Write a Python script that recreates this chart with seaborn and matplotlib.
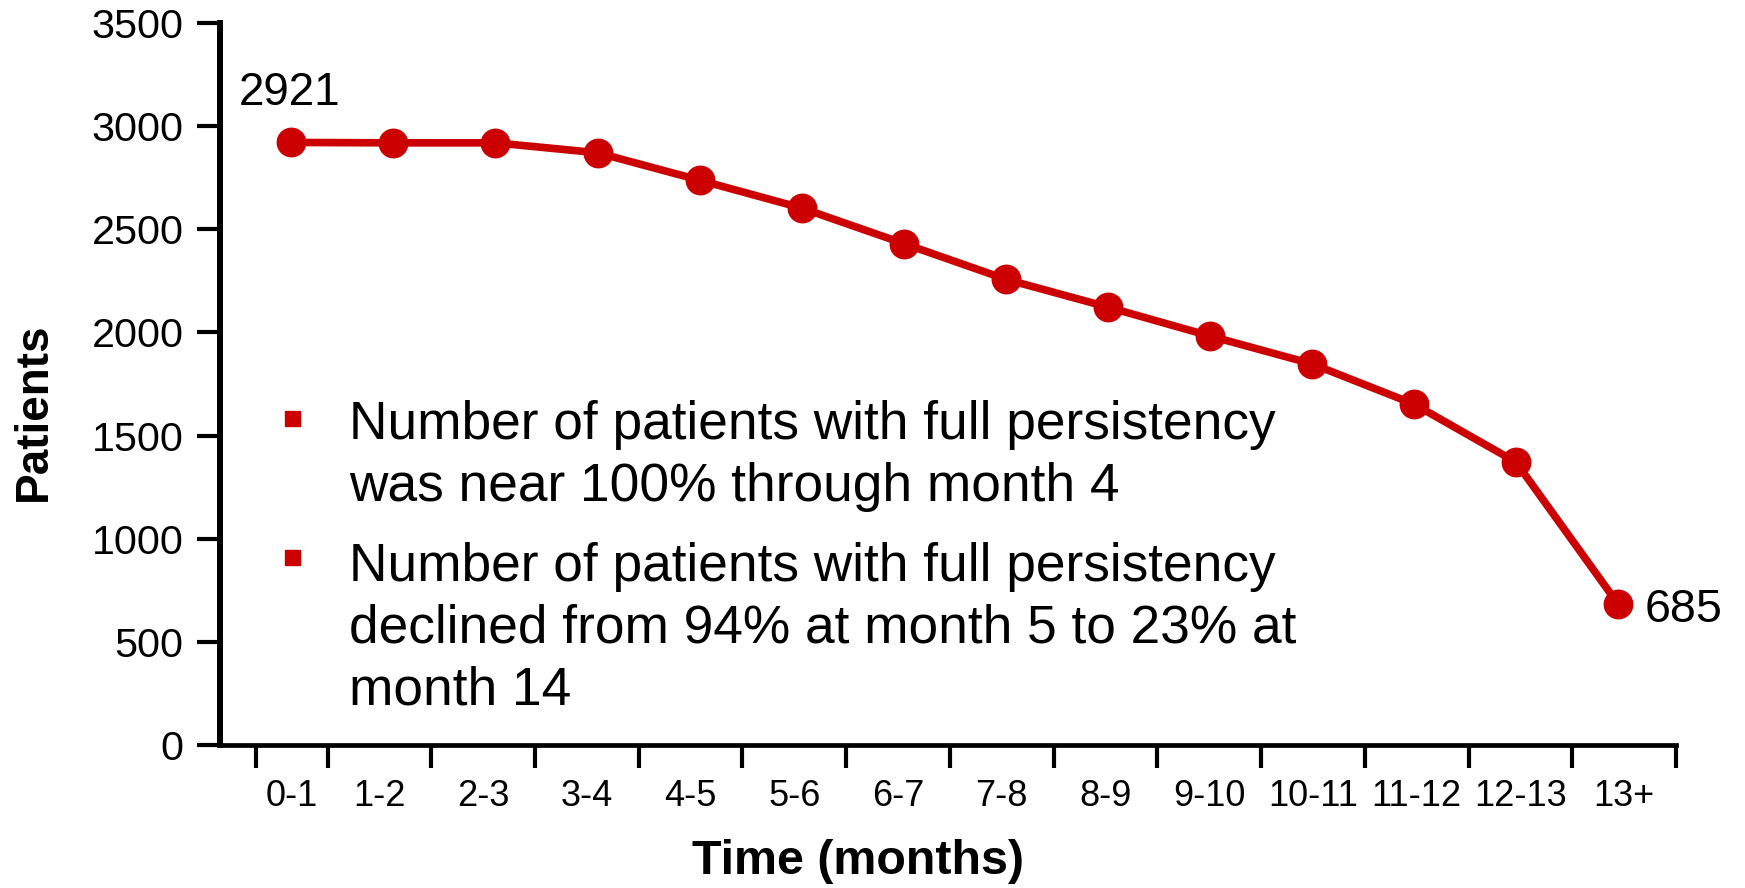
import numpy as np
import pandas as pd
import matplotlib
matplotlib.use("Agg")
import matplotlib.pyplot as plt
import seaborn as sns

# Patients with full persistency per month interval
periods = ["0-1", "1-2", "2-3", "3-4", "4-5", "5-6", "6-7", "7-8",
           "8-9", "9-10", "10-11", "11-12", "12-13", "13+"]
patients = [2921, 2919, 2919, 2871, 2738, 2603, 2431, 2258,
            2123, 1983, 1848, 1653, 1372, 685]
y_ticks = [0, 500, 1000, 1500, 2000, 2500, 3000, 3500]
notes = [
    "Number of patients with full persistency\nwas near 100% through month 4",
    "Number of patients with full persistency\ndeclined from 94% at month 5 to 23% at\nmonth 14",
]

sns.set_theme(style="ticks")
plt.rcParams["font.family"] = ["Liberation Sans", "DejaVu Sans"]

RED = "#CC0000"
W, H = 1745, 888
LEFT, RIGHT, TOP, BOTTOM = 220, 1676, 23, 745   # axes box in pixels

df = pd.DataFrame({"idx": np.arange(len(periods)), "patients": patients})

fig = plt.figure(figsize=(W / 100, H / 100), dpi=100)
ax = fig.add_axes([LEFT / W, 1 - BOTTOM / H, (RIGHT - LEFT) / W, (BOTTOM - TOP) / H])

sns.lineplot(data=df, x="idx", y="patients", ax=ax, color=RED,
             linewidth=5.5, marker="o", markersize=21.5,
             markerfacecolor=RED, markeredgecolor=RED, markeredgewidth=0,
             clip_on=False)

# category boundaries carry the tick marks, labels sit between them
edges = np.r_[-0.35, np.linspace(0.354, 13.57, 14)]
centers = (edges[:-1] + edges[1:]) / 2
ax.set_xlim(-0.70, 13.57)
ax.set_xticks(edges)
ax.set_xticklabels([])
ax.set_xticks(centers, minor=True)
ax.set_xticklabels(periods, minor=True)
ax.tick_params(axis="x", which="major", length=16.5, width=3, color="black")
ax.tick_params(axis="x", which="minor", length=0, labelsize=26, pad=24.5,
               labelcolor="black")

ax.set_ylim(0, 3500)
ax.set_yticks(y_ticks)
ax.tick_params(axis="y", length=16.3, width=3, labelsize=29.7, pad=10,
               color="black", labelcolor="black")

sns.despine(ax=ax)
ax.spines["left"].set_linewidth(4.3)
ax.spines["bottom"].set_linewidth(3.4)
ax.spines["left"].set_color("black")
ax.spines["bottom"].set_color("black")

ax.set_xlabel("Time (months)", fontsize=34.8, fontweight="bold", color="black")
ax.set_ylabel("Patients", fontsize=33, fontweight="bold", color="black")
ax.xaxis.set_label_coords(0.4385, -0.1607)
ax.xaxis.label.set_va("center")
ax.yaxis.set_label_coords(-0.128, 0.462)
ax.yaxis.label.set_va("center")

# value labels at the first and last interval
ax.annotate(f"{patients[0]}", (0, patients[0]), xytext=(-1.5, 27.3),
            textcoords="offset points", ha="center", va="baseline",
            fontsize=33, color="black")
ax.annotate(f"{patients[-1]}", (len(patients) - 1, patients[-1]),
            xytext=(19.5, -12.9), textcoords="offset points", ha="left",
            va="baseline", fontsize=33.6, color="black")

# bullet notes, one text per line on fixed baselines
line_step = 62
first_baselines = [439, 580.5]
bullet_y = [418.5, 556.5]
for text, base, by in zip(notes, first_baselines, bullet_y):
    for k, line in enumerate(text.split("\n")):
        fig.text(349 / W, 1 - (base + k * line_step) / H, line,
                 ha="left", va="baseline", fontsize=38.3, color="black")
    ax.plot([291.6 / W], [1 - by / H], marker="s", markersize=10.8,
            color=RED, transform=fig.transFigure, clip_on=False)

fig.savefig("out.png", dpi=100, facecolor="white")
